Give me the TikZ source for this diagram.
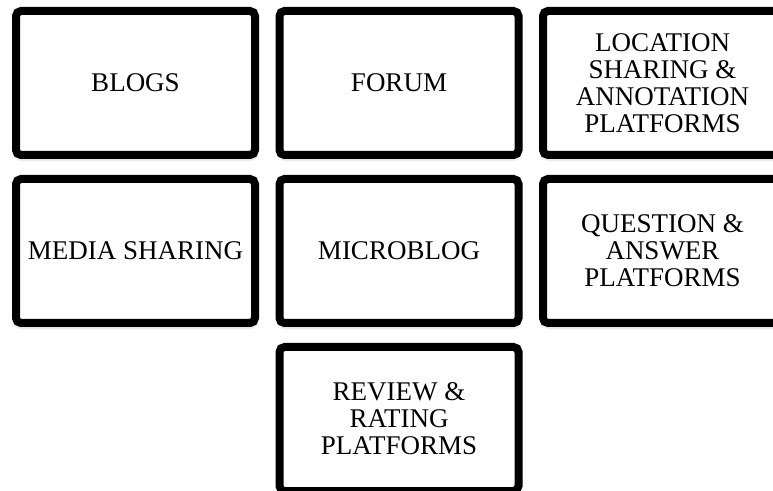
\documentclass[tikz,border=0pt]{standalone}
\usepackage{fontspec}
\setmainfont{Liberation Serif}
\usetikzlibrary{shadows.blur}
\begin{document}
\begin{tikzpicture}[node distance=263.5pt,
    main node/.style={draw,line width=8pt,rounded corners=5pt,fill=white,
      minimum width=239pt,minimum height=144pt,align=center,
      font=\fontsize{27pt}{27pt}\selectfont,
      blur shadow={shadow xshift=0pt,shadow yshift=-3pt,shadow blur radius=4pt,shadow opacity=35}}]
    \useasboundingbox (0,0) rectangle (773pt,490pt);
    \node[main node] (1) at (135.5pt,407pt) {BLOGS};
    \node[main node] (2) [right of=1] {FORUM};
    \node[main node] (3) [right of=2] {LOCATION\\SHARING \&\\ANNOTATION\\PLATFORMS};
    \node[main node] (4) [below of=1,node distance=168pt] {MEDIA SHARING};
    \node[main node] (5) [right of=4] {MICROBLOG};
    \node[main node] (6) [right of=5] {QUESTION \&\\ANSWER\\PLATFORMS};
    \node[main node] (7) [below of=5,node distance=168pt] {REVIEW \&\\RATING\\PLATFORMS};
\end{tikzpicture}
\end{document}
